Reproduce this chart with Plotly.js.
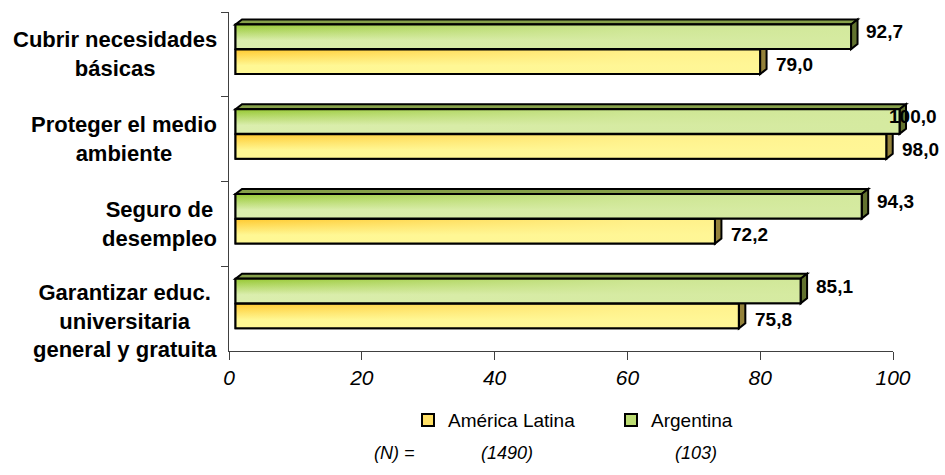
<!DOCTYPE html>
<html>
<head>
<meta charset="utf-8">
<script src="https://cdn.plot.ly/plotly-3.0.1.min.js"></script>
<style>html,body{margin:0;padding:0;background:#fff;}#chart{width:945px;height:475px;}</style>
</head>
<body>
<div id="chart"></div>
<script>
// ---- data ----
const categories = [
  'Cubrir necesidades<br>básicas',
  'Proteger el medio<br>ambiente',
  'Seguro de<br>desempleo',
  'Garantizar educ.<br>universitaria<br>general y gratuita'
];
const argentina = [92.7, 100.0, 94.3, 85.1];
const americaLatina = [79.0, 98.0, 72.2, 75.8];
const seriesNames = ['América Latina', 'Argentina'];
const sampleSizes = [1490, 103];
const xTicks = [0, 20, 40, 60, 80, 100];

// ---- geometry / style ----
const FONT = 'Liberation Sans, Arial, sans-serif';
const pxPerUnit = 6.64;
const plotW = 706;
const xDomainVisible = 664 / plotW;
const frontShift = 0.98;         // 3D projection shift of the front faces (x units)
const depthX = 0.98;             // 3D depth (x units)
const depthY = 0.059;            // 3D depth (category units)
const barW = 0.29;
const offArg = -0.352;
const offAL = -0.057;
const yRange = [categories.length - 0.5, -0.5];

const styles = {
  green: {legend: '#bcdc72', top: '#dbeeae', bottom: '#96c832', pale: '213,234,160'},
  yellow: {legend: '#ffe066', top: '#fff894', bottom: '#ffc930', pale: '255,246,150'}
};
const colTop = '#86a04a', colGreenSide = '#62722f', colYellowSide = '#94823a';

const fmt = v => v.toFixed(1).replace('.', ',');

const traces = [
  {type: 'scatter', x: [], y: [], xaxis: 'x', yaxis: 'y', showlegend: false, hoverinfo: 'skip'},
  {
    type: 'bar', orientation: 'h', name: seriesNames[0],
    x: americaLatina, y: categories, xaxis: 'x2', yaxis: 'y',
    width: barW, offset: offAL,
    marker: {color: styles.yellow.legend, line: {color: '#000', width: 2}}
  },
  {
    type: 'bar', orientation: 'h', name: seriesNames[1],
    x: argentina, y: categories, xaxis: 'x2', yaxis: 'y',
    width: barW, offset: offArg,
    marker: {color: styles.green.legend, line: {color: '#000', width: 2}}
  }
];

// gradient shading of the bar front faces (same geometry as the bars)
function shading(values, off, st) {
  const fx = [], fy = [];
  values.forEach((v, i) => {
    const t = i + off, b = t + barW;
    traces.push({type: 'scatter', mode: 'none', fill: 'toself', xaxis: 'x2', yaxis: 'y2',
      x: [0, v, v, 0, 0], y: [t, t, b, b, t], hoverinfo: 'skip', showlegend: false,
      fillgradient: {type: 'vertical', colorscale: [[0, st.top], [0.35, st.top], [1, st.bottom]]}});
    fx.push(0, v, v, 0, 0, null);
    fy.push(t, t, b, b, t, null);
  });
  traces.push({type: 'scatter', mode: 'lines', fill: 'toself', xaxis: 'x2', yaxis: 'y2',
    x: fx, y: fy, line: {color: '#000', width: 2}, hoverinfo: 'skip', showlegend: false,
    fillgradient: {type: 'horizontal', start: 0, stop: 100, colorscale: [
      [0, `rgba(${st.pale},0)`], [0.3, `rgba(${st.pale},0.45)`], [0.6, `rgba(${st.pale},0.85)`], [1, `rgba(${st.pale},1)`]]}});
}
shading(americaLatina, offAL, styles.yellow);
shading(argentina, offArg, styles.green);

const shapes = [];
const annotations = [];
categories.forEach((c, i) => {
  const vA = argentina[i], vL = americaLatina[i];
  const gT = i + offArg, gB = gT + barW;
  const yT = i + offAL, yB = yT + barW;
  const base = {xref: 'x2', yref: 'y', line: {color: '#000', width: 2}, layer: 'below'};
  shapes.push(Object.assign({}, base, {type: 'path', fillcolor: colYellowSide,
    path: `M${vL},${yT} L${vL + depthX},${yT - depthY} L${vL + depthX},${yB - depthY} L${vL},${yB} Z`}));
  shapes.push(Object.assign({}, base, {type: 'path', fillcolor: colTop,
    path: `M0,${gT} L${vA},${gT} L${vA + depthX},${gT - depthY} L${depthX},${gT - depthY} Z`}));
  shapes.push(Object.assign({}, base, {type: 'path', fillcolor: colGreenSide,
    path: `M${vA},${gT} L${vA + depthX},${gT - depthY} L${vA + depthX},${gB - depthY} L${vA},${gB} Z`}));

  // value labels
  const fit = vA < 99;
  annotations.push({xref: 'x2', yref: 'y', x: vA, y: gT + barW / 2 - depthY,
    xanchor: fit ? 'left' : 'right', xshift: fit ? 13 : 39, yanchor: 'middle',
    text: fmt(vA), showarrow: false, font: {family: FONT, size: 19, color: '#000', weight: 'bold'}});
  annotations.push({xref: 'x2', yref: 'y', x: vL, y: yT + barW / 2,
    xanchor: 'left', xshift: 14, yshift: -3, yanchor: 'middle',
    text: fmt(vL), showarrow: false, font: {family: FONT, size: 19, color: '#000', weight: 'bold'}});

  // category labels
  const nLines = c.split('<br>').length;
  annotations.push({xref: 'paper', yref: 'y', x: 0, xshift: -10, y: i, yshift: -(nLines - 2) * 12,
    xanchor: 'right', yanchor: 'middle', align: 'center', text: c, showarrow: false,
    font: {family: FONT, size: 22, color: '#000', weight: 'bold'}});
});

// (N) = line
const nFont = {family: FONT, size: 18, color: '#000', style: 'italic'};
annotations.push({xref: 'paper', yref: 'paper', x: (372 - 229) / plotW, y: -0.301, xanchor: 'left', yanchor: 'middle',
  text: '(N) =', showarrow: false, font: nFont});
annotations.push({xref: 'paper', yref: 'paper', x: (479 - 229) / plotW, y: -0.301, xanchor: 'left', yanchor: 'middle',
  text: '(' + sampleSizes[0] + ')', showarrow: false, font: nFont});
annotations.push({xref: 'paper', yref: 'paper', x: (673 - 229) / plotW, y: -0.301, xanchor: 'left', yanchor: 'middle',
  text: '(' + sampleSizes[1] + ')', showarrow: false, font: nFont});

const layout = {
  width: 945, height: 475, autosize: false,
  margin: {l: 229, r: 10, t: 12, b: 124},
  paper_bgcolor: '#fff', plot_bgcolor: 'rgba(0,0,0,0)',
  barmode: 'overlay',
  showlegend: true,
  legend: {orientation: 'h', x: (408 - 229) / plotW, xanchor: 'left', y: -0.204, yanchor: 'middle',
    entrywidth: 158, font: {family: FONT, size: 19, color: '#000'}, traceorder: 'normal'},
  xaxis: {
    domain: [0, xDomainVisible], range: [0, 100], anchor: 'y',
    tickvals: xTicks, ticktext: xTicks.map(String),
    ticks: 'outside', ticklen: 8, tickcolor: '#404040',
    showline: true, linecolor: '#404040', linewidth: 1,
    showgrid: false, zeroline: false, fixedrange: true,
    tickfont: {family: FONT, size: 21, color: '#000', style: 'italic'}
  },
  xaxis2: {
    domain: [0, 1], range: [-frontShift, -frontShift + plotW / pxPerUnit], anchor: 'y',
    visible: false, fixedrange: true
  },
  yaxis: {
    type: 'category', categoryorder: 'array', categoryarray: categories,
    range: yRange, anchor: 'x',
    tickson: 'boundaries', ticks: 'outside', ticklen: 7, tickcolor: '#404040',
    showticklabels: false, showline: true, linecolor: '#404040', linewidth: 1,
    showgrid: false, zeroline: false, fixedrange: true
  },
  yaxis2: {
    type: 'linear', overlaying: 'y', range: yRange, anchor: 'x2', visible: false, fixedrange: true
  },
  shapes: shapes,
  annotations: annotations
};

Plotly.newPlot('chart', traces, layout, {displayModeBar: false, staticPlot: true});
</script>
</body>
</html>
